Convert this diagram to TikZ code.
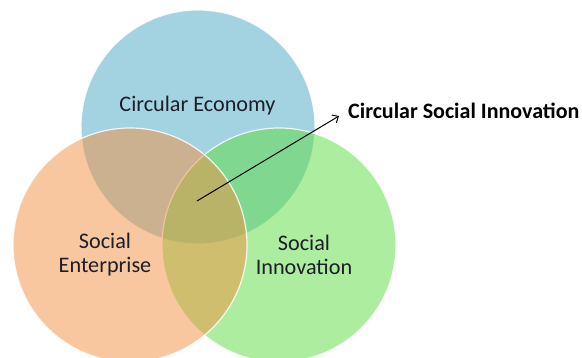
\documentclass[tikz,border=0pt]{standalone}
\usepackage{fontspec}
\setmainfont{Carlito}
\usetikzlibrary{arrows.meta}
\definecolor{cblue}{RGB}{73,167,197}
\definecolor{corange}{RGB}{243,145,65}
\definecolor{cgreen}{RGB}{93,221,65}
\definecolor{ctext}{RGB}{28,30,40}
\tikzset{
  venn/.style={draw=white, line width=1.2pt, fill opacity=0.5, draw opacity=0.85},
  vlabel/.style={inner sep=0pt, text=ctext, align=center, font=\fontsize{22.2}{24}\selectfont},
  callout/.style={inner sep=0pt, anchor=west, text=black, font=\fontsize{22}{24}\selectfont\bfseries},
  pointer/.style={draw=black, line width=1pt, -{Straight Barb[length=5pt,width=9pt,line width=1pt]}}
}
\begin{document}
\begin{tikzpicture}[x=1pt,y=-1pt]
\useasboundingbox (0,0) rectangle (582,358);
\clip (0,0) rectangle (582,358);
\fill[white] (0,0) rectangle (582,358);
% circles
\coordinate (cb) at (198,127);
\coordinate (cg) at (279,245);
\coordinate (co) at (130,245);
\path[venn, fill=cblue] (cb) circle[radius=117];
\path[venn, fill=cgreen] (cg) circle[radius=117];
\path[venn, fill=corange] (co) circle[radius=117];
% labels
\node[vlabel, anchor=base] (ce) at (197.5,112) {Circular Economy};
\node[vlabel] (se) at (105,255) {Social\\Enterprise};
\node[vlabel] (si) at (304,255) {Social\\Innovation};
\node[callout] (csi) at (348,111) {Circular Social Innovation};
% pointer
\coordinate (tail) at (197,201);
\coordinate (head) at (339,116);
\draw[pointer] (tail) -- (head);
\end{tikzpicture}
\end{document}
